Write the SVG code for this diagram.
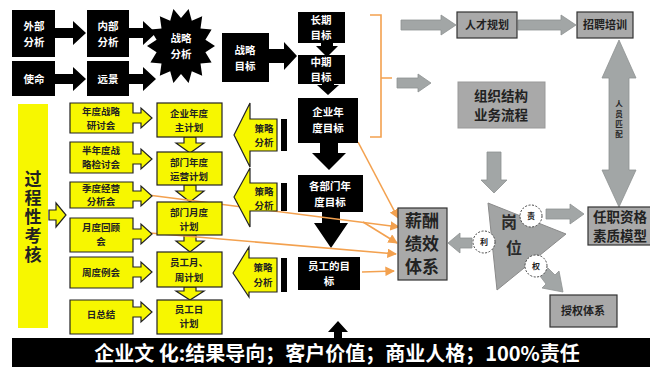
<svg xmlns="http://www.w3.org/2000/svg" width="650" height="367" viewBox="0 0 650 367">
<style>
text{font-family:"Noto Sans CJK SC","Liberation Sans",sans-serif;font-weight:bold;text-anchor:middle}
.bk{fill:#000}
.wt{fill:#fff;font-size:10.5px}
.yl{fill:#f7f700;stroke:#222;stroke-width:1.2}
.yb{fill:#f7f700}
.dt{fill:#222;font-size:9.5px}
.gb{fill:#a9a9a9;stroke:#333;stroke-width:1.2}
.ga{fill:#a2a6a6;stroke:#8e9292;stroke-width:0.8}
.gt{fill:#222;font-size:11px}
.or{fill:none;stroke:#f3a14f;stroke-width:1.6}
.cir{fill:#fff;stroke:#444;stroke-width:1;stroke-dasharray:2 1.5}
.vt{fill:#222;font-size:17px;writing-mode:vertical-rl;letter-spacing:2px}
.vs{fill:#222;font-size:7.5px;writing-mode:vertical-rl;letter-spacing:2.5px}
</style>
<defs>
<marker id="oa" viewBox="0 0 10 10" refX="9" refY="5" markerWidth="6" markerHeight="6" orient="auto">
<path d="M0,0 L10,5 L0,10 Z" fill="#f3a14f"/>
</marker>
</defs>
<rect width="650" height="367" fill="#fff"/>

<g id="connectors">
<path class="bk" d="M55,28 H73 V21 L86,33 L73,45 V38 H55 Z"/>
<path class="bk" d="M55,74 H73 V67 L86,79 L73,91 V84 H55 Z"/>
<path class="bk" d="M128,28 H143 V21 L156,33 L143,45 V38 H128 Z"/>
<path class="bk" d="M128,74 H143 V67 L156,79 L143,91 V84 H128 Z"/>
<path class="bk" d="M268,49 H284 V42 L297,56 L284,70 V63 H268 Z"/>
<path class="bk" d="M321,42 H333 V46 H338 L327,57 L316,46 H321 Z"/>
<path class="bk" d="M322,83 H334 V85 H339 L328,95 L317,85 H322 Z"/>
<path class="bk" d="M320,143 H338 V153 H346 L329,170 L312,153 H320 Z"/>
<path class="bk" d="M322,212 H340 V223 H348 L331,248 L314,223 H322 Z"/>
<path class="bk" d="M334,338 V332 H328 L338,321 L348,332 H342 V338 Z"/>
<path class="yl" d="M49,210 H56 V203 L66,215 L56,227 V220 H49 Z"/>
<path class="yl" d="M184,137 H196 V143 H204 L190,153 L176,143 H184 Z"/>
<path class="yl" d="M184,185 H196 V191 H204 L190,202 L176,191 H184 Z"/>
<path class="yl" d="M184,235 H196 V241 H204 L190,252 L176,241 H184 Z"/>
<path class="yl" d="M184,287 H196 V291 H204 L190,300 L176,291 H184 Z"/>
<path class="or" d="M370,15 H381 V137 H370 M381,78 H392"/>
<path class="or" marker-end="url(#oa)" d="M358,142 L398,218"/>
<path class="or" marker-end="url(#oa)" d="M148,195 L399,227"/>
<path class="or" marker-end="url(#oa)" d="M363,222 L397,243"/>
<path class="or" marker-end="url(#oa)" d="M150,233 L396,254"/>
<path class="or" marker-end="url(#oa)" d="M362,272 L394,271"/>
<path class="ga" d="M401,20 H441 V15 L456,25 L441,35 V30 H401 Z"/>
<path class="ga" d="M518,20 H561 V15 L576,25 L561,35 V30 H518 Z"/>
<path class="ga" d="M397,78 H418 V74 L431,83 L418,92 V88 H397 Z"/>
<path class="ga" d="M609,78 H602 L619,40 L636,78 H629 V170 H636 L619,207 L602,170 H609 Z"/>
<path class="ga" d="M487,152 H501 V180 H507 L494,193 L481,180 H487 Z"/>
<path class="ga" d="M546,209 H570 V204 L584,214 L570,224 V219 H546 Z"/>
<path class="ga" d="M472,238 H460 V233 L448,243 L460,253 V248 H472 Z"/>
<path class="ga" d="M540,276 L548,268 L555,275 L559,271 L563,292 L542,288 L546,284 Z"/>
</g>

<g id="n-waibu"><rect class="bk" x="12" y="10" width="43" height="47"/><text class="wt"><tspan x="34" y="30">外部</tspan><tspan x="34" y="46">分析</tspan></text></g>
<g id="n-neibu"><rect class="bk" x="87" y="10" width="42" height="47"/><text class="wt"><tspan x="108" y="30">内部</tspan><tspan x="108" y="46">分析</tspan></text></g>
<g id="n-shiming"><rect class="bk" x="12" y="61" width="43" height="35"/><text class="wt" x="34" y="83">使命</text></g>
<g id="n-yuanjing"><rect class="bk" x="87" y="61" width="42" height="35"/><text class="wt" x="108" y="83">远景</text></g>
<g id="n-zlfx"><polygon class="bk" points="215,46 205.4,52.2 211.6,62.5 200.5,63.5 202.2,75.7 191.8,71.2 188.6,83.1 181,74 173.4,83.1 170.2,71.2 159.8,75.7 161.5,63.5 150.4,62.5 156.6,52.2 147,46 156.6,39.8 150.4,29.5 161.5,28.5 159.8,16.3 170.2,20.8 173.4,8.9 181,18 188.6,8.9 191.8,20.8 202.2,16.3 200.5,28.5 211.6,29.5 205.4,39.8"/><text class="wt"><tspan x="181" y="42">战略</tspan><tspan x="181" y="58">分析</tspan></text></g>
<g id="n-zlmb"><rect class="bk" x="222" y="33" width="47" height="49"/><text class="wt"><tspan x="245" y="54">战略</tspan><tspan x="245" y="70">目标</tspan></text></g>
<g id="n-changqi"><rect class="bk" x="298" y="12" width="47" height="31"/><text class="wt"><tspan x="321" y="24">长期</tspan><tspan x="321" y="39">目标</tspan></text></g>
<g id="n-zhongqi"><rect class="bk" x="298" y="55" width="47" height="29"/><text class="wt"><tspan x="321" y="66">中期</tspan><tspan x="321" y="81">目标</tspan></text></g>
<g id="n-qyndmb"><rect class="bk" x="298" y="98" width="60" height="45"/><text class="wt"><tspan x="328" y="116">企业年</tspan><tspan x="328" y="132">度目标</tspan></text></g>
<g id="n-gbmmb"><rect class="bk" x="298" y="175" width="65" height="37"/><text class="wt"><tspan x="330" y="190">各部门年</tspan><tspan x="330" y="206">度目标</tspan></text></g>
<g id="n-ygmb"><rect class="bk" x="298" y="257" width="62" height="33"/><text class="wt"><tspan x="329" y="270">员工的目</tspan><tspan x="329" y="285">标</tspan></text></g>

<g id="n-gcxkh"><rect class="yb" x="18" y="104" width="30" height="224"/>
<text class="vt" x="33" y="218">过程性考核</text></g>

<g id="n-ndzl"><path class="yl" d="M70,103 H133 V113 H141 V108 L152,118 L141,128 V123 H133 V133 H70 Z"/><text class="dt"><tspan x="101" y="115">年度战略</tspan><tspan x="101" y="129">研讨会</tspan></text></g>
<g id="n-bnd"><path class="yl" d="M70,142 H133 V154 H141 V149 L152,159 L141,169 V164 H133 V173 H70 Z"/><text class="dt"><tspan x="101" y="154">半年度战</tspan><tspan x="101" y="168">略检讨会</tspan></text></g>
<g id="n-jd"><path class="yl" d="M70,182 H133 V191 H141 V186 L152,196 L141,206 V201 H133 V208 H70 Z"/><text class="dt"><tspan x="101" y="192">季度经营</tspan><tspan x="101" y="205">分析会</tspan></text></g>
<g id="n-yd"><path class="yl" d="M70,218 H133 V229 H141 V224 L152,234 L141,244 V239 H133 V252 H70 Z"/><text class="dt"><tspan x="101" y="231">月度回顾</tspan><tspan x="101" y="245">会</tspan></text></g>
<g id="n-zd"><path class="yl" d="M70,257 H133 V267 H141 V262 L152,272 L141,282 V277 H133 V288 H70 Z"/><text class="dt" x="101" y="276">周度例会</text></g>
<g id="n-rzj"><path class="yl" d="M70,300 H133 V307 H141 V302 L152,312 L141,322 V317 H133 V334 H70 Z"/><text class="dt" x="101" y="318">日总结</text></g>

<g id="n-qynd"><rect class="yl" x="157" y="103" width="65" height="34"/><text class="dt"><tspan x="189" y="117">企业年度</tspan><tspan x="189" y="131">主计划</tspan></text></g>
<g id="n-bmnd"><rect class="yl" x="157" y="152" width="65" height="33"/><text class="dt"><tspan x="189" y="166">部门年度</tspan><tspan x="189" y="180">运营计划</tspan></text></g>
<g id="n-bmyd"><rect class="yl" x="157" y="202" width="65" height="33"/><text class="dt"><tspan x="189" y="216">部门月度</tspan><tspan x="189" y="230">计划</tspan></text></g>
<g id="n-ygyz"><rect class="yl" x="157" y="252" width="65" height="35"/><text class="dt"><tspan x="189" y="266">员工月、</tspan><tspan x="189" y="281">周计划</tspan></text></g>
<g id="n-ygr"><rect class="yl" x="157" y="300" width="65" height="34"/><text class="dt"><tspan x="189" y="313">员工日</tspan><tspan x="189" y="327">计划</tspan></text></g>

<g id="n-clfx1"><path class="yl" d="M234,135 L250,103 V119 H277 V151 H250 V167 Z"/><rect class="bk" x="281" y="119" width="6" height="32"/><text class="dt"><tspan x="264" y="132">策略</tspan><tspan x="264" y="146">分析</tspan></text></g>
<g id="n-clfx2"><path class="yl" d="M234,197 L250,168 V183 H277 V211 H250 V227 Z"/><rect class="bk" x="281" y="183" width="6" height="28"/><text class="dt"><tspan x="264" y="195">策略</tspan><tspan x="264" y="209">分析</tspan></text></g>
<g id="n-clfx3"><path class="yl" d="M233,273 L249,247 V258 H277 V292 H249 V297 Z"/><rect class="bk" x="281" y="258" width="6" height="34"/><text class="dt"><tspan x="263" y="271">策略</tspan><tspan x="263" y="286">分析</tspan></text></g>

<g id="n-rcgh"><rect class="gb" x="457" y="12" width="60" height="26"/><text class="gt" x="487" y="29">人才规划</text></g>
<g id="n-zppx"><rect class="gb" x="577" y="12" width="56" height="26"/><text class="gt" x="605" y="29">招聘培训</text></g>
<g id="n-zzjg"><rect fill="#a9a9a9" stroke="#999" x="458" y="82" width="87" height="46"/><text fill="#222" font-size="13.5"><tspan x="501" y="101">组织结构</tspan><tspan x="501" y="120">业务流程</tspan></text></g>
<g id="n-rypp"><text class="vs" x="619" y="120">人员匹配</text></g>
<g id="n-xc"><rect class="gb" x="398" y="208" width="49" height="72"/><text fill="#222" font-size="17"><tspan x="422" y="227">薪酬</tspan><tspan x="422" y="250">绩效</tspan><tspan x="422" y="273">体系</tspan></text></g>
<g id="n-gw"><polygon fill="#a2a4a4" stroke="#8a8a8a" points="488,203 566,234 497,290"/><text fill="#2a2a2a" font-size="16"><tspan x="509" y="228">岗</tspan><tspan x="514" y="254">位</tspan></text>
<circle class="cir" cx="531" cy="216" r="11"/><text fill="#222" font-size="8" x="531" y="219">责</text>
<circle class="cir" cx="484" cy="242" r="11"/><text fill="#222" font-size="8" x="484" y="245">利</text>
<circle class="cir" cx="536" cy="266" r="11"/><text fill="#222" font-size="8" x="536" y="269">权</text></g>
<g id="n-rzzg"><rect class="gb" x="588" y="207" width="66" height="38"/><text fill="#222" font-size="13.5"><tspan x="620" y="222">任职资格</tspan><tspan x="620" y="241">素质模型</tspan></text></g>
<g id="n-sqtx"><rect class="gb" x="550" y="295" width="67" height="32"/><text class="gt" x="583" y="315">授权体系</text></g>

<g id="n-culture"><rect class="bk" x="12" y="338" width="640" height="30"/><text fill="#fff" font-size="20" x="337" y="361">企业文 化:结果导向；客户价值；商业人格；100%责任</text></g>
</svg>
